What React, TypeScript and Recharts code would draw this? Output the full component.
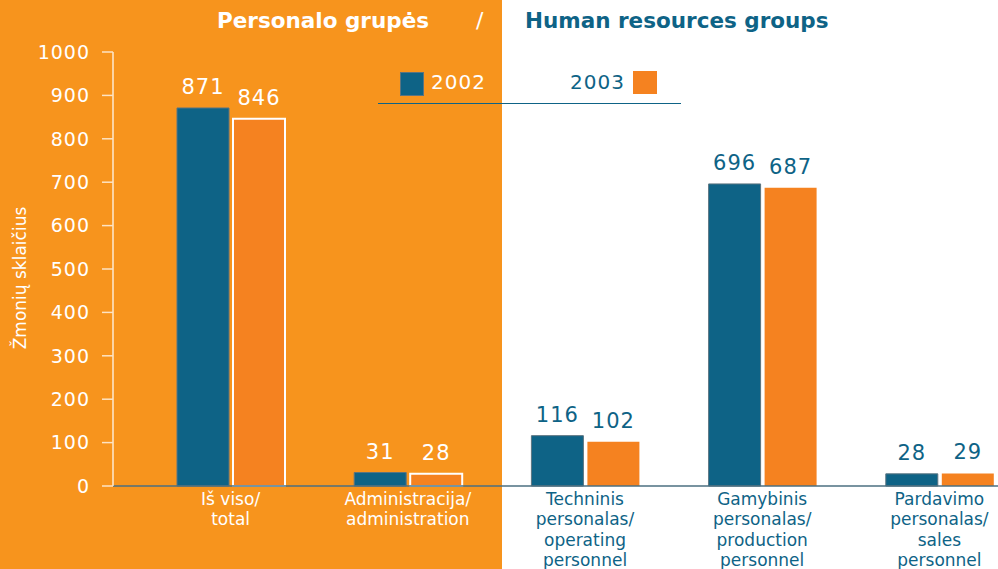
import { BarChart, Bar, XAxis, YAxis, Cell, LabelList } from 'recharts'

const categories = [
  ['Iš viso/', 'total'],
  ['Administracija/', 'administration'],
  ['Techninis', 'personalas/', 'operating', 'personnel'],
  ['Gamybinis', 'personalas/', 'production', 'personnel'],
  ['Pardavimo', 'personalas/', 'sales', 'personnel'],
]
const values2002 = [871, 31, 116, 696, 28]
const values2003 = [846, 28, 102, 687, 29]
const yTicks = [0, 100, 200, 300, 400, 500, 600, 700, 800, 900, 1000]

const ORANGE_BG = '#F7941D'
const ORANGE = '#F58220'
const BLUE = '#0E6386'
const FONT = '"DejaVu Sans", sans-serif'
// first two groups sit on the orange half
const onOrange = (i: number) => i < 2

const data = categories.map((lines, i) => ({
  name: lines.join(' '),
  y2002: values2002[i],
  y2003: values2003[i],
}))

const XTick = (props: any) => {
  const { x, y, index } = props
  const lines = categories[index] || []
  return (
    <text x={x} y={y} textAnchor="middle" fontSize={17} fontFamily={FONT} fill={onOrange(index) ? '#fff' : BLUE}>
      {lines.map((l, k) => (
        <tspan key={k} x={x} dy={k === 0 ? 11 : 20.3}>{l}</tspan>
      ))}
    </text>
  )
}

const valueLabel = (props: any) => {
  const { x, y, width, value, index } = props
  return (
    <text x={x + width / 2} y={y - 14} textAnchor="middle" fontSize={21} fontFamily={FONT} letterSpacing={1} fill={onOrange(index) ? '#fff' : BLUE}>
      {value}
    </text>
  )
}

const LegendBox = () => (
  <div style={{ position: 'absolute', left: 0, top: 0, width: 998, height: 110, fontFamily: FONT, fontSize: 20 }}>
    <div style={{ position: 'absolute', left: 400, top: 72, width: 22, height: 22, background: BLUE, border: '1px solid #5b7480' }} />
    <div style={{ position: 'absolute', left: 431, top: 70, color: '#fff', letterSpacing: 1 }}>2002</div>
    <div style={{ position: 'absolute', left: 570, top: 70, color: BLUE, letterSpacing: 1 }}>2003</div>
    <div style={{ position: 'absolute', left: 633, top: 71, width: 24, height: 23, background: ORANGE }} />
    <div style={{ position: 'absolute', left: 378, top: 103, width: 303, height: 1, background: BLUE }} />
  </div>
)

export default function App() {
  return (
    <div
      style={{
        position: 'absolute',
        left: 0,
        top: 0,
        width: 998,
        height: 569,
        overflow: 'hidden',
        background: `linear-gradient(to right, ${ORANGE_BG} 0, ${ORANGE_BG} 502px, #fff 502px)`,
        fontFamily: FONT,
      }}
    >
      <div style={{ position: 'absolute', left: 217, top: 8, fontSize: 21.5, fontWeight: 'bold', color: '#fff' }}>Personalo grupės</div>
      <div style={{ position: 'absolute', left: 476, top: 8, fontSize: 22, color: '#fff' }}>/</div>
      <div style={{ position: 'absolute', left: 525, top: 8, fontSize: 21.5, fontWeight: 'bold', color: BLUE }}>Human resources groups</div>
      <LegendBox />
      <BarChart
        width={998}
        height={569}
        data={data}
        margin={{ top: 52, right: 0, bottom: 0, left: 0 }}
        barSize={52}
        barGap={4}
        style={{ position: 'absolute', left: 0, top: 0 }}
      >
        <XAxis
          dataKey="name"
          tick={<XTick />}
          tickLine={false}
          interval={0}
          axisLine={{ stroke: '#4b6f80', strokeWidth: 1.5 }}
          padding={{ left: 29, right: -30 }}
          height={83}
        />
        <YAxis
          width={113}
          domain={[0, 1000]}
          ticks={yTicks}
          interval={0}
          tickSize={11}
          tickMargin={12}
          axisLine={{ stroke: '#fff', strokeWidth: 1.2 }}
          tickLine={{ stroke: '#fde3c4', strokeWidth: 1.5 }}
          tick={{ fill: '#fff', fontSize: 19, fontFamily: FONT, letterSpacing: 1 }}
          label={{
            content: (p: any) => {
              const vb = p.viewBox || {}
              const cy = (vb.y || 52) + (vb.height || 434) / 2 + 9
              return (
                <text x={20} y={cy} transform={`rotate(-90 20 ${cy})`} textAnchor="middle" dominantBaseline="central" fill="#fff" fontSize={17} fontFamily={FONT}>
                  Žmonių sklaičius
                </text>
              )
            },
          }}
        />
        <Bar dataKey="y2002" isAnimationActive={false} fill={BLUE}>
          {data.map((_, i) => (
            <Cell key={i} fill={BLUE} stroke="#5b7480" strokeWidth={1} />
          ))}
          <LabelList dataKey="y2002" content={valueLabel} />
        </Bar>
        <Bar dataKey="y2003" isAnimationActive={false} fill={ORANGE}>
          {data.map((_, i) => (
            <Cell key={i} fill={ORANGE} stroke={onOrange(i) ? '#fff' : 'none'} strokeWidth={2} />
          ))}
          <LabelList dataKey="y2003" content={valueLabel} />
        </Bar>
      </BarChart>
    </div>
  )
}
